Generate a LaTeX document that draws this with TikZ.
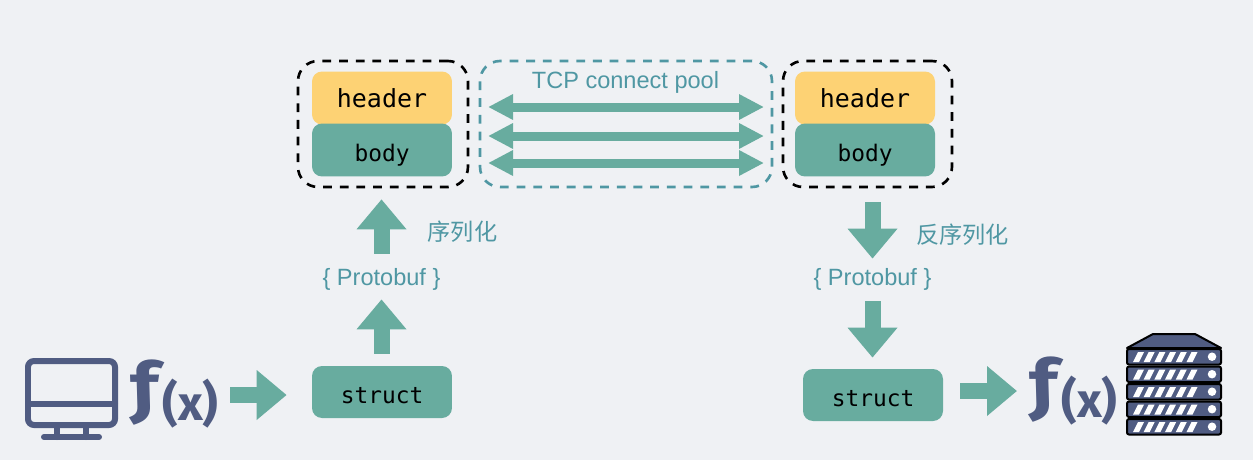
\documentclass[tikz,border=0pt]{standalone}
\usepackage{fontspec}
\setmainfont{Liberation Sans}
\newfontfamily\codefont{DejaVu Sans Mono}
\newfontfamily\cjkfont{Noto Sans CJK SC}
\newfontfamily\funcfont{Fira Sans}[BoldItalicFeatures={FakeSlant=-0.2, FakeStretch=1.22}]
\usetikzlibrary{arrows.meta}

\definecolor{pagebg}{HTML}{EFF1F4}
\definecolor{teal1}{HTML}{68AC9F}
\definecolor{teal2}{HTML}{4F97A3}
\definecolor{gold1}{HTML}{FDD274}
\definecolor{navy1}{HTML}{505C82}

\newcommand{\lowtext}[1]{\raisebox{-0.22cm}[0pt][0pt]{#1}}
\newcommand{\funcname}{f{\upshape\fontsize{27.5}{27.5}\selectfont\raisebox{-0.2cm}[0pt][0pt]{(x)}}}

\begin{document}
\begin{tikzpicture}[
        x=0.02cm, y=-0.02cm,
        codebox/.style={rounded corners=0.2cm, minimum width=2.8cm, text=black, font=\codefont\fontsize{13}{13}\selectfont},
        framebox/.style={draw=black, line width=1.5pt, dash pattern=on 5pt off 4.5pt, rounded corners=0.4cm, minimum height=2.52cm},
        fatarrow/.style={draw=teal1, line width=0.32cm, -{Triangle[length=0.6cm, width=0.96cm]}},
        linkarrow/.style={draw=teal1, line width=0.18cm, {Triangle[length=0.5cm, width=0.48cm]}-{Triangle[length=0.5cm, width=0.48cm]}},
        tealtext/.style={text=teal2, font=\fontsize{13.4}{13.4}\selectfont},
        cjktext/.style={text=teal2, font=\cjkfont\fontsize{13.2}{13.2}\selectfont},
        functext/.style={text=navy1, font=\funcfont\bfseries\itshape\fontsize{38}{38}\selectfont, inner sep=0pt}
    ]
        \fill[pagebg] (0, 0) rectangle (1253, 460);
        \useasboundingbox (0, 0) rectangle (1253, 460);

        % frames around the messages
        \node[framebox, minimum width=3.4cm] (frameL) at (383, 124){};
        \node[framebox, minimum width=3.38cm] (frameR) at (867.5, 124){};
        \node[framebox, draw=teal2, minimum width=5.84cm] (poolbox) at (626, 124){};

        \node[codebox, fill=gold1, minimum height=1.06cm, font=\codefont\fontsize{14.2}{14.2}\selectfont] (headerL) at (382, 98){header};
        \node[codebox, fill=teal1, minimum height=1.06cm] (bodyL) at (382, 150){\lowtext{body}};
        \node[codebox, fill=gold1, minimum height=1.06cm, font=\codefont\fontsize{14.2}{14.2}\selectfont] (headerR) at (865, 98){header};
        \node[codebox, fill=teal1, minimum height=1.06cm] (bodyR) at (865, 150){\lowtext{body}};

        \node[codebox, fill=teal1, minimum height=1.04cm] (structL) at (382, 392){\lowtext{struct}};
        \node[codebox, fill=teal1, minimum height=1.04cm] (structR) at (873, 395){\lowtext{struct}};

        \node[tealtext] (poollabel) at (625.5, 82.5){TCP connect pool};
        \node[tealtext, minimum height=0.8cm, inner sep=0pt] (protoL) at (381.5, 279){\{ Protobuf \}};
        \node[tealtext, minimum height=0.8cm, inner sep=0pt] (protoR) at (872.5, 279){\{ Protobuf \}};
        \node[cjktext] (serlabel) at (462.5, 232){序列化};
        \node[cjktext] (deslabel) at (962.5, 235){反序列化};

        \node[functext, anchor=west] (funcL) at (134, 393){\funcname};
        \node[functext, anchor=west] (funcR) at (1033, 390){\funcname};

        % connections in the pool
        \foreach \i/\y in {1/107, 2/136, 3/163} {
            \coordinate (linkL\i) at (488, \y);
            \coordinate (linkR\i) at (764, \y);
            \draw[linkarrow] (linkL\i) -- (linkR\i);
        }

        \coordinate (funcLout) at (230, 395);
        \coordinate (funcRin) at (1017, 391);
        \draw[fatarrow, shorten >=0.5cm] (funcLout) -- (funcLout -| structL.west);
        \draw[fatarrow, shorten <=0.24cm] (structL.north -| protoL) -- (protoL.south);
        \draw[fatarrow, shorten <=0.1cm, shorten >=0.22cm] (protoL.north) -- (frameL.south -| protoL);
        \draw[fatarrow, shorten <=0.28cm] (frameR.south -| protoR) -- (protoR.north);
        \draw[fatarrow, shorten <=0.04cm, shorten >=0.22cm] (protoR.south) -- (structR.north -| protoR);
        \draw[fatarrow, shorten <=0.34cm] (structR.east |- funcRin) -- (funcRin);

        % monitor
        \begin{scope}[navy1, line width=0.12cm, line cap=round]
            \draw[rounded corners=0.12cm] (28, 361) rectangle (115, 425);
            \draw (28, 404) -- (115, 404);
            \draw (57, 425) -- (57, 437);
            \draw (86, 425) -- (86, 437);
            \draw (44, 437) -- (99, 437);
        \end{scope}

        % server
        \filldraw[fill=navy1, draw=black, line width=0.04cm, line join=round] (1127, 348) -- (1153, 334) -- (1195, 334) -- (1221, 348) -- cycle;
        \foreach \y in {349, 366.5, 384, 401.5, 419} {
            \filldraw[fill=navy1, draw=black, line width=0.04cm, rounded corners=0.04cm] (1127, \y) rectangle (1221, \y + 15.5);
            \foreach \k in {0, 1, 2, 3, 4, 5} {
                \fill[white] (1133 + \k*10.7, \y + 13) -- (1139 + \k*10.7, \y + 13) -- (1144 + \k*10.7, \y + 3) -- (1138 + \k*10.7, \y + 3) -- cycle;
            }
            \fill[white] (1212, \y + 7.7) circle (0.085cm);
        }
    \end{tikzpicture}
\end{document}
